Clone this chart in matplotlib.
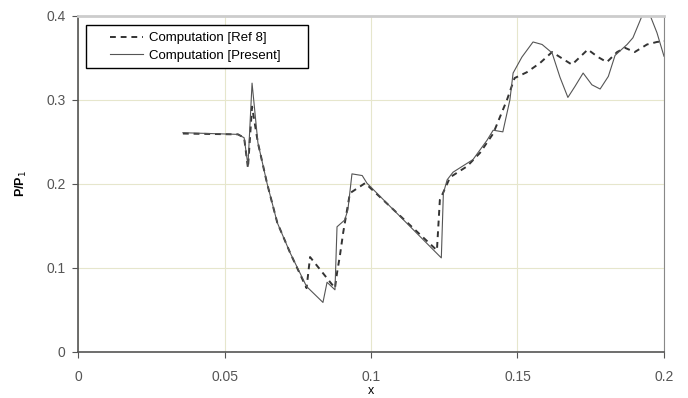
import matplotlib.pyplot as plt
from matplotlib.patches import Rectangle

plt.rcParams['font.family'] = ['Liberation Sans', 'DejaVu Sans']

# Computation [Ref 8] (dashed)
x_ref = [0.0358, 0.0546, 0.0567, 0.058, 0.0594, 0.0614, 0.0645, 0.068, 0.0724, 0.078,
         0.0792, 0.0877, 0.0884, 0.0894, 0.0905, 0.0928, 0.098, 0.1225, 0.1235, 0.127,
         0.1328, 0.1372, 0.1417, 0.1464, 0.149, 0.1532, 0.1577, 0.1618, 0.1645, 0.1686,
         0.1713, 0.174, 0.1775, 0.1805, 0.184, 0.1867, 0.19, 0.1942, 0.1976, 0.2]
y_ref = [0.260, 0.259, 0.255, 0.219, 0.292, 0.249, 0.201, 0.154, 0.118, 0.076,
         0.113, 0.076, 0.094, 0.115, 0.142, 0.189, 0.201, 0.121, 0.181, 0.208,
         0.221, 0.237, 0.260, 0.300, 0.326, 0.333, 0.344, 0.357, 0.351, 0.342,
         0.351, 0.360, 0.351, 0.345, 0.357, 0.362, 0.357, 0.366, 0.369, 0.370]

# Computation [Present] (solid)
x_pre = [0.0358, 0.0546, 0.0567, 0.058, 0.0594, 0.0614, 0.0645, 0.068, 0.0724, 0.078,
         0.0836, 0.085, 0.0877, 0.0884, 0.091, 0.0921, 0.0935, 0.097, 0.0986, 0.124,
         0.1247, 0.126, 0.128, 0.1348, 0.1396, 0.1417, 0.145, 0.1474, 0.1485, 0.1515,
         0.1553, 0.1584, 0.1618, 0.1645, 0.1672, 0.1696, 0.1724, 0.1754, 0.1782, 0.181,
         0.1833, 0.1874, 0.1894, 0.1925, 0.195, 0.1976, 0.2]
y_pre = [0.261, 0.259, 0.255, 0.222, 0.320, 0.249, 0.201, 0.154, 0.118, 0.078,
         0.059, 0.083, 0.074, 0.149, 0.157, 0.169, 0.212, 0.210, 0.201, 0.112,
         0.189, 0.205, 0.214, 0.229, 0.252, 0.264, 0.262, 0.300, 0.332, 0.351,
         0.369, 0.366, 0.356, 0.327, 0.303, 0.316, 0.332, 0.318, 0.313, 0.328,
         0.353, 0.366, 0.374, 0.400, 0.403, 0.380, 0.352]

fig = plt.figure(figsize=(6.88, 3.98), dpi=100)
ax = fig.add_axes([0.1134, 0.1156, 0.8517, 0.8444])

ax.plot(x_ref, y_ref, linestyle=(0, (3, 2.5)), color='#333333', lw=1.4, label='Computation [Ref 8]')
ax.plot(x_pre, y_pre, linestyle='-', color='#555555', lw=0.8, label='Computation [Present]')

ax.set_xlim(0, 0.2)
ax.set_ylim(0, 0.4)
ax.set_xticks([0, 0.05, 0.1, 0.15, 0.2])
ax.set_xticklabels(['0', '0.05', '0.1', '0.15', '0.2'])
ax.set_yticks([0, 0.1, 0.2, 0.3, 0.4])
ax.set_yticklabels(['0', '0.1', '0.2', '0.3', '0.4'])
ax.grid(True, color='#e6e6cc', lw=0.8)
ax.tick_params(labelsize=10, labelcolor='#555555', color='#555555', length=4)
ax.tick_params(axis='x', pad=9)
ax.tick_params(axis='y', pad=5)

for s in ['left', 'bottom']:
    ax.spines[s].set_color('#555555')
    ax.spines[s].set_linewidth(1.2)
ax.spines['top'].set_color('#cccccc')
ax.spines['top'].set_linewidth(2)
ax.spines['right'].set_color('#888888')

ax.set_xlabel('x', fontsize=9, labelpad=1)
ax.set_ylabel('P/P$_1$', fontsize=9, fontweight='bold', labelpad=12)

# legend frame
ax.add_patch(Rectangle((0.0136, 0.845), 0.3788, 0.128, transform=ax.transAxes,
                       facecolor='white', edgecolor='black', lw=1.0, zorder=4))
leg = ax.legend(loc='upper left', bbox_to_anchor=(0.054, 0.952), fontsize=9.5,
                frameon=False, handlelength=2.5, handletextpad=0.45,
                borderpad=0, borderaxespad=0, labelspacing=0.4)
leg.set_zorder(5)

fig.savefig('out.png', dpi=100)
